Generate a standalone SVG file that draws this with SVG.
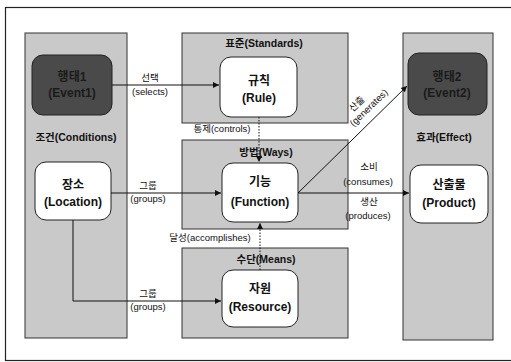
<svg xmlns="http://www.w3.org/2000/svg" width="511" height="362" viewBox="0 0 511 362">
<defs>
<style>
text{font-family:"Liberation Sans","Noto Sans CJK KR",sans-serif;fill:#111;text-anchor:middle;font-weight:bold}
.col{fill:#c9c9c9;stroke:#333;stroke-width:1}
.node{fill:#fff;stroke:#222;stroke-width:1}
.dark{fill:#4a4a4a;stroke:#222;stroke-width:1}
.hd{font-size:10.5px}
.nl{font-size:12px}
.cl{font-size:9.5px;font-weight:normal}
.ln{stroke:#111;stroke-width:1;fill:none}
.dl{stroke:#111;stroke-width:1;fill:none;stroke-dasharray:1.5 1.5}
text.dk{fill:#1a1a1a}
</style>
<marker id="ar" markerWidth="7" markerHeight="7" refX="6" refY="3.5" orient="auto" markerUnits="userSpaceOnUse">
<path d="M0,0.5 L6,3.5 L0,6.5 Z" fill="#111"/>
</marker>
</defs>
<rect x="5.5" y="7.5" width="510" height="353" fill="none" stroke="#222" stroke-width="1.2"/>

<g id="col-conditions">
<rect class="col" x="25" y="33" width="102" height="305"/>
<text class="hd" x="76" y="141">조건(Conditions)</text>
</g>
<g id="col-standards">
<rect class="col" x="182" y="33" width="166" height="90"/>
<text class="hd" x="264" y="47">표준(Standards)</text>
</g>
<g id="col-ways">
<rect class="col" x="182" y="140" width="166" height="89"/>
<text class="hd" x="266" y="156">방법(Ways)</text>
</g>
<g id="col-means">
<rect class="col" x="182" y="248" width="166" height="90"/>
<text class="hd" x="266" y="263">수단(Means)</text>
</g>
<g id="col-effect">
<rect class="col" x="403" y="33" width="90" height="307"/>
<text class="hd" x="444" y="141">효과(Effect)</text>
</g>

<g id="event1">
<rect class="dark" x="32" y="55" width="80" height="60" rx="11"/>
<text class="nl dk" x="72" y="81">행태1</text>
<text class="nl dk" x="72" y="97">(Event1)</text>
</g>
<g id="location">
<rect class="node" x="35" y="162" width="76" height="58" rx="11"/>
<text class="nl" x="73" y="189">장소</text>
<text class="nl" x="73" y="206">(Location)</text>
</g>
<g id="rule">
<rect class="node" x="220" y="57" width="77" height="60" rx="11"/>
<text class="nl" x="259" y="85">규칙</text>
<text class="nl" x="259" y="102">(Rule)</text>
</g>
<g id="function">
<rect class="node" x="222" y="163" width="76" height="59" rx="11"/>
<text class="nl" x="260" y="186">기능</text>
<text class="nl" x="260" y="206">(Function)</text>
</g>
<g id="resource">
<rect class="node" x="222" y="270" width="76" height="57" rx="11"/>
<text class="nl" x="260" y="293">자원</text>
<text class="nl" x="260" y="311">(Resource)</text>
</g>
<g id="event2">
<rect class="dark" x="408" y="53" width="79" height="62" rx="11"/>
<text class="nl dk" x="447" y="81">행태2</text>
<text class="nl dk" x="447" y="97">(Event2)</text>
</g>
<g id="product">
<rect class="node" x="410" y="165" width="78" height="58" rx="11"/>
<text class="nl" x="449" y="189">산출물</text>
<text class="nl" x="449" y="207">(Product)</text>
</g>

<g id="connectors">
<path class="ln" d="M112,85 H219" marker-end="url(#ar)"/>
<text class="cl" x="150" y="81">선택</text>
<text class="cl" x="150" y="95">(selects)</text>

<path class="dl" d="M259,117 V162" marker-end="url(#ar)"/>
<text class="cl" x="222" y="132">통제(controls)</text>

<path class="ln" d="M111,193 H221" marker-end="url(#ar)"/>
<text class="cl" x="148" y="189">그룹</text>
<text class="cl" x="148" y="202">(groups)</text>

<path class="dl" d="M260,270 V223" marker-end="url(#ar)"/>
<text class="cl" x="210" y="241">달성(accomplishes)</text>

<path class="ln" d="M73,220 V301 H221" marker-end="url(#ar)"/>
<text class="cl" x="148" y="297">그룹</text>
<text class="cl" x="148" y="310">(groups)</text>

<path class="ln" d="M298,193 L407,86" marker-end="url(#ar)"/>
<text class="cl" transform="translate(371,110) rotate(-44)" x="-6" y="-11">산출</text>
<text class="cl" transform="translate(371,110) rotate(-44)" x="0" y="0">(generates)</text>

<path class="ln" d="M298,193 H409" marker-end="url(#ar)"/>
<text class="cl" x="369" y="170">소비</text>
<text class="cl" x="368" y="185">(consumes)</text>
<text class="cl" x="369" y="205">생산</text>
<text class="cl" x="368" y="219">(produces)</text>
</g>
</svg>
